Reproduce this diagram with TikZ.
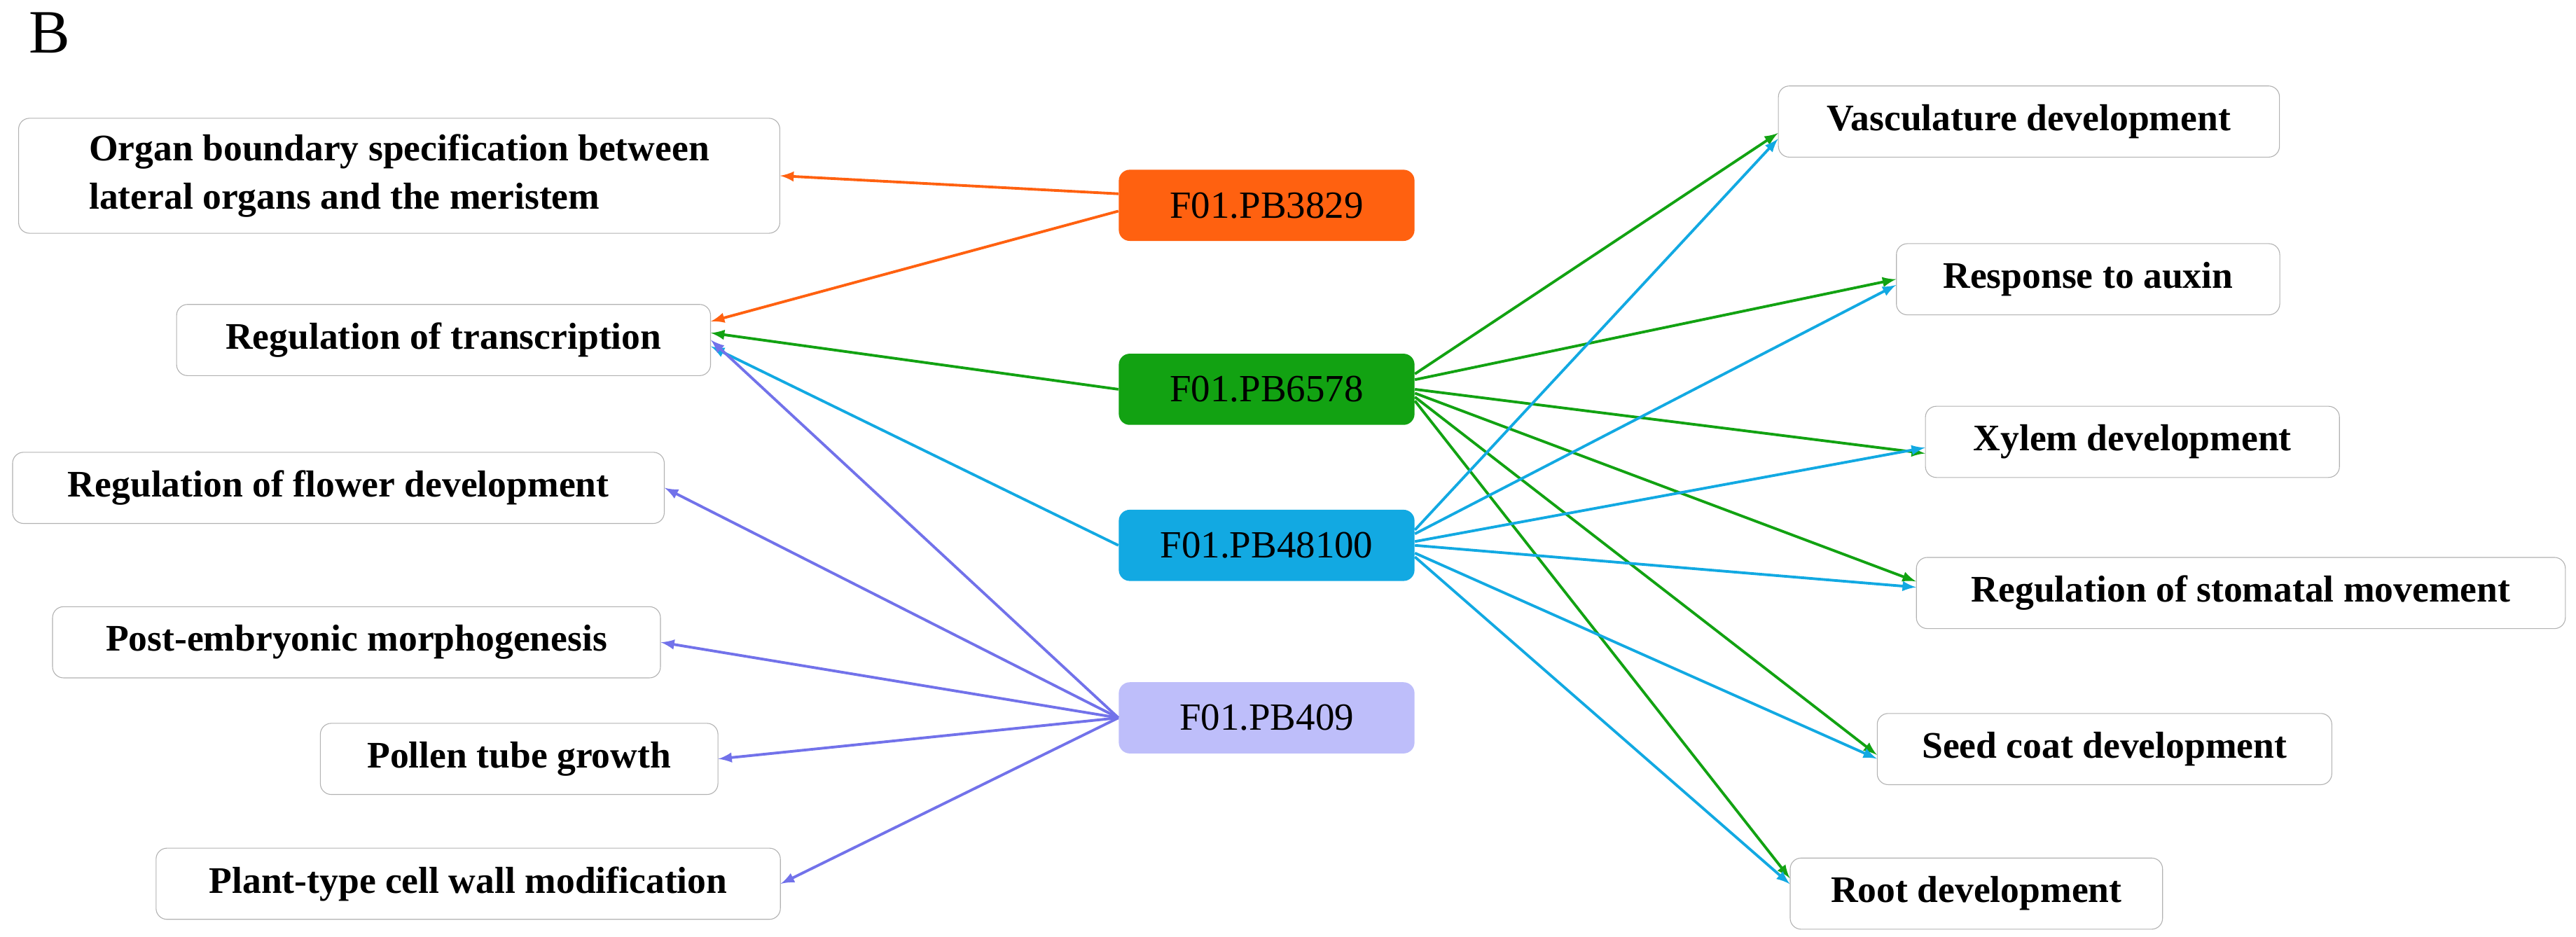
\documentclass[tikz,border=0pt]{standalone}
\usepackage{fontspec}
\setmainfont{Liberation Serif}
\definecolor{hubOrange}{HTML}{FF6110}
\definecolor{hubGreen}{HTML}{12A212}
\definecolor{hubCyan}{HTML}{12A9E2}
\definecolor{hubLav}{HTML}{BEBEFA}
\definecolor{arrLav}{HTML}{7272EA}
\tikzset{
  term/.style={draw=gray!60, rounded corners=2mm, fill=white, font=\fontsize{19.5}{25}\selectfont\bfseries,
    minimum height=1.3cm, inner xsep=10pt, align=left},
  hub/.style={rounded corners=2mm, font=\fontsize{20}{24}\selectfont, minimum width=5.4cm, minimum height=1.3cm},
  link/.style={-latex, line width=1.4pt},
}
\begin{document}
\begin{tikzpicture}[x=0.03cm, y=-0.03cm]
\useasboundingbox (0,0) rectangle (1568,570);
\node[font=\fontsize{32}{32}\selectfont] (lbl) at (30,20) {B};
% left terms
\node[term, minimum width=13.9cm, minimum height=2.1cm] (organ) at (243,107) {Organ boundary specification between\\lateral organs and the meristem};
\node[term, minimum width=9.75cm] (trans) at (270,207) {Regulation of transcription};
\node[term, minimum width=11.9cm] (flower) at (206,297) {Regulation of flower development};
\node[term, minimum width=11.1cm] (post) at (217,391) {Post-embryonic morphogenesis};
\node[term, minimum width=7.26cm] (pollen) at (316,462) {Pollen tube growth};
\node[term, minimum width=11.4cm] (wall) at (285,538) {Plant-type cell wall modification};
% hubs
\node[hub, fill=hubOrange] (pbA) at (771,125) {F01.PB3829};
\node[hub, fill=hubGreen] (pbB) at (771,237) {F01.PB6578};
\node[hub, fill=hubCyan] (pbC) at (771,332) {F01.PB48100};
\node[hub, fill=hubLav] (pbD) at (771,437) {F01.PB409};
% right terms
\node[term, minimum width=9.15cm] (vasc) at (1235,74) {Vasculature development};
\node[term, minimum width=7cm] (auxin) at (1271,170) {Response to auxin};
\node[term, minimum width=7.56cm] (xylem) at (1298,269) {Xylem development};
\node[term, minimum width=11.85cm] (stom) at (1364,361) {Regulation of stomatal movement};
\node[term, minimum width=8.3cm] (seed) at (1281,456) {Seed coat development};
\node[term, minimum width=6.8cm] (root) at (1203,544) {Root development};
% orange
\draw[link, hubOrange] ([yshift=6pt]pbA.west) -- (organ.east);
\draw[link, hubOrange] ([yshift=-3pt]pbA.west) -- ([yshift=-9pt]trans.north east);
% green
\draw[link, hubGreen] (pbB.west) -- ([yshift=-15pt]trans.north east);
\foreach \t/\s/\e in {vasc/8/-6, auxin/5/0, xylem/0/-6, stom/-2/6, seed/-4/-3, root/-6/8}
  \draw[link, hubGreen] ([yshift=\s pt]pbB.east) -- ([yshift=\e pt]\t.west);
% cyan
\draw[link, hubCyan] (pbC.west) -- ([yshift=-22pt]trans.north east);
\foreach \t/\s/\e in {vasc/8/-9, auxin/6/-3, xylem/2/-3, stom/0/3, seed/-4/-5, root/-6/5}
  \draw[link, hubCyan] ([yshift=\s pt]pbC.east) -- ([yshift=\e pt]\t.west);
% lavender
\foreach \t in {trans, flower, post, pollen, wall}
  \draw[link, arrLav] (pbD.west) -- (\t.east);
\end{tikzpicture}
\end{document}
